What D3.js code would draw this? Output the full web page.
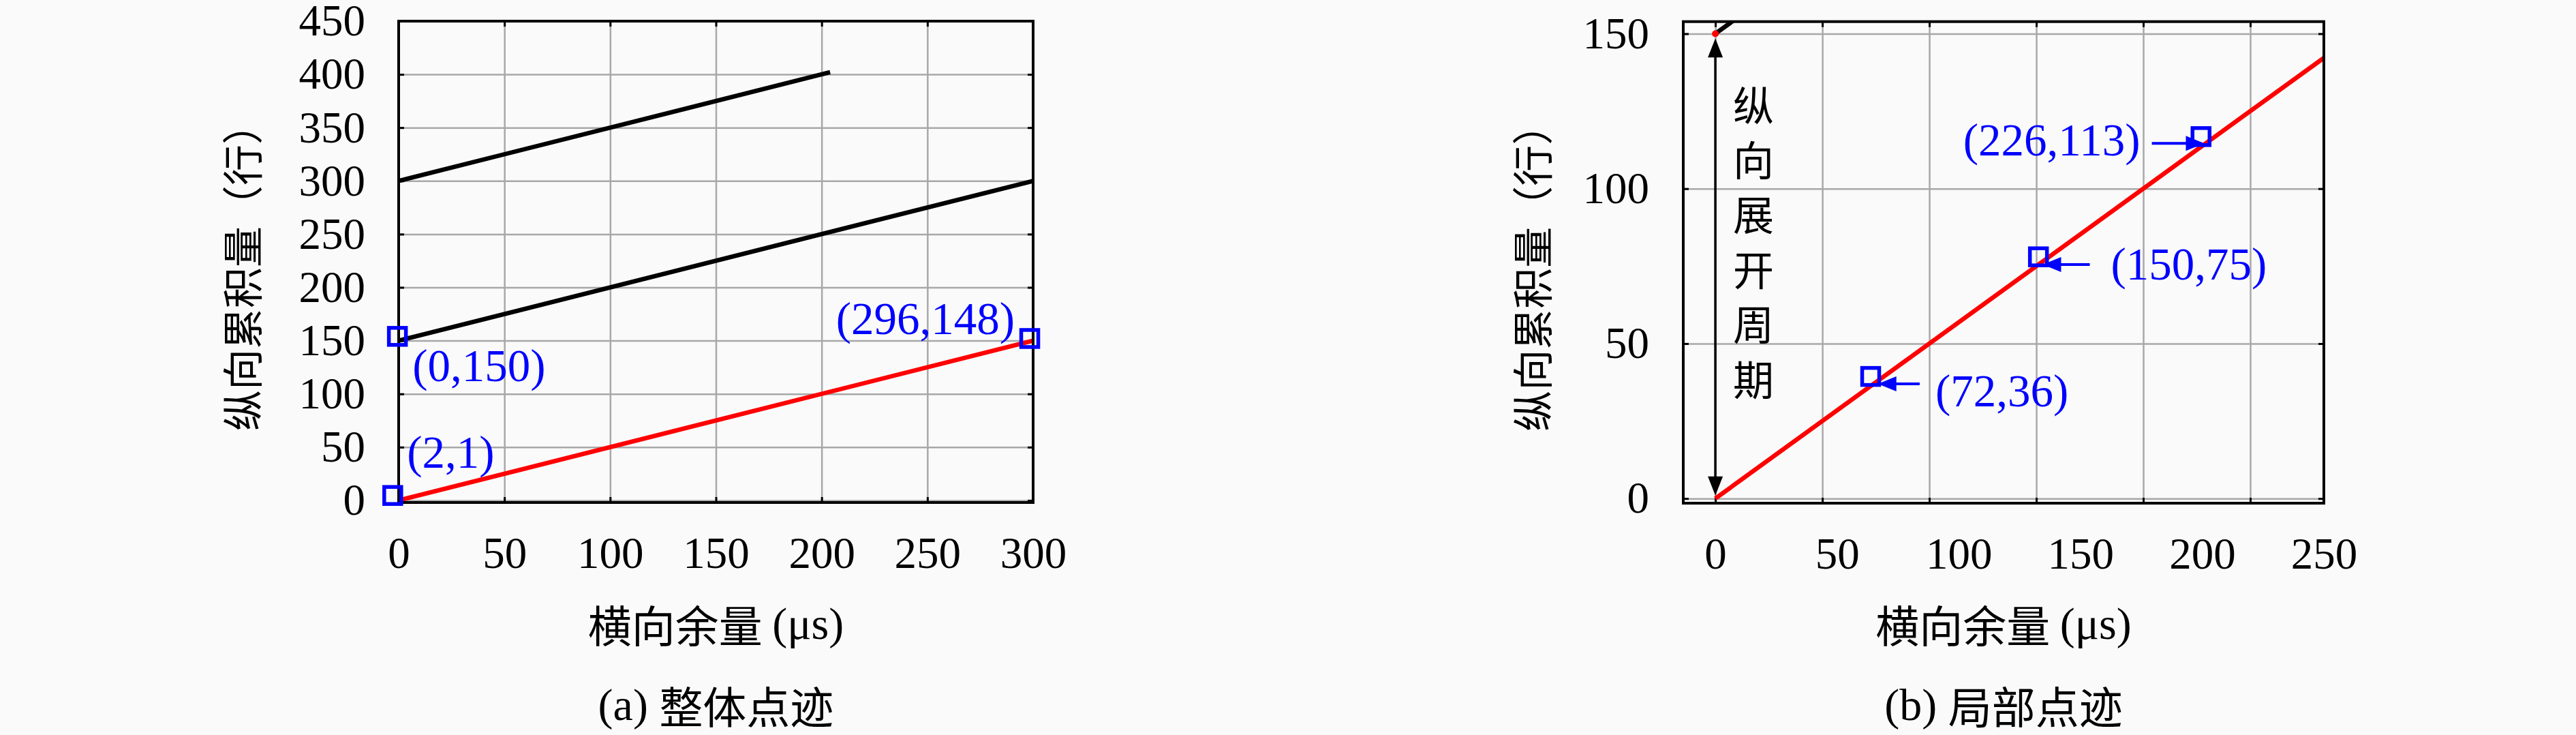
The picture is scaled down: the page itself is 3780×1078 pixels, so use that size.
<!DOCTYPE html>
<meta charset="utf-8">
<style>
  body { margin: 0; background: #fafafa; }
  .grid line { stroke: #a8a8a8; stroke-width: 2.5px; }
  .grid .domain { display: none; }
  .tk .domain { display: none; }
  .tk line { stroke: #000; stroke-width: 3px; }
  .num text { font-family: "Liberation Serif", serif; font-size: 65px; fill: #000; }
  .cjk { font-family: "Noto Sans CJK SC", sans-serif; fill: #000; }
  .ann { font-family: "Liberation Serif", serif; font-size: 67px; fill: #0000ff; }
</style>
<body>
<script src="https://cdn.jsdelivr.net/npm/d3@7"></script>
<script>
// ---- data (a) ----
var xTicksA = [0, 50, 100, 150, 200, 250, 300];
var yTicksA = [0, 50, 100, 150, 200, 250, 300, 350, 400, 450];
var redLineA = [[0, 0], [300, 150]];
var blackLinesA = [
  [[0, 150], [300, 300]],
  [[0, 300], [204, 402]]
];
var markersA = [[-2.8, 4.6], [-0.6, 154], [298.4, 152]];
var markerLabelsA = ["(2,1)", "(0,150)", "(296,148)"];

// ---- data (b) ----
var xTicksB = [0, 50, 100, 150, 200, 250];
var xTickLabelsB = ["0", "50", "100", "150", "200", "250"];
var yTicksB = [0, 50, 100, 150];
var redLineB = [[0, 0], [284.4, 142.2]];
var blackLineB = [[0, 150], [300, 300]];
var redDotB = [0, 150];
var markersB = [[72.6, 39.4], [151, 78], [227, 116.8]];
var markerLabelsB = ["(72,36)", "(150,75)", "(226,113)"];
var arrowTipsB = [[76, 37], [153, 75.5], [228.5, 114.6]];
var arrowTailsB = [95.5, 175, 204];
var periodArrowB = [1, 148.5];
var periodText = ["纵", "向", "展", "开", "周", "期"];

var yTitle = "纵向累积量（行）";
var xTitle = "横向余量 ";

var W = 3780, H = 1078;
var svg = d3.select("body").append("svg")
  .attr("width", W).attr("height", H)
  .style("display", "block");
svg.append("rect").attr("width", W).attr("height", H).attr("fill", "#fafafa");

function arrowHead(g, tipX, tipY, dirX, dirY, len, half, color) {
  // dir is unit vector pointing toward tip
  var bx = tipX - dirX * len, by = tipY - dirY * len;
  var px = -dirY, py = dirX;
  g.append("path")
    .attr("d", "M" + tipX + "," + tipY +
      "L" + (bx + px * half) + "," + (by + py * half) +
      "L" + (bx - px * half) + "," + (by - py * half) + "Z")
    .attr("fill", color);
}

function panel(opt) {
  var x = opt.x, y = opt.y;
  var x0 = x.range()[0], x1 = x.range()[1];
  var y0 = y.range()[0], y1 = y.range()[1];
  var g = svg.append("g");

  var clipId = "clip" + opt.id;
  svg.append("clipPath").attr("id", clipId)
    .append("rect").attr("x", x0).attr("y", y1)
    .attr("width", x1 - x0).attr("height", y0 - y1);

  // grid
  g.append("g").attr("class", "grid")
    .attr("transform", "translate(0," + y0 + ")")
    .call(d3.axisBottom(x).tickValues(opt.xTicks).tickSize(-(y0 - y1)).tickFormat(""));
  g.append("g").attr("class", "grid")
    .attr("transform", "translate(" + x0 + ",0)")
    .call(d3.axisLeft(y).tickValues(opt.yTicks).tickSize(-(x1 - x0)).tickFormat(""));

  // inward ticks on all sides
  g.append("g").attr("class", "tk").attr("transform", "translate(0," + y0 + ")")
    .call(d3.axisBottom(x).tickValues(opt.xTicks).tickSize(-8).tickFormat(""));
  g.append("g").attr("class", "tk").attr("transform", "translate(0," + y1 + ")")
    .call(d3.axisTop(x).tickValues(opt.xTicks).tickSize(-8).tickFormat(""));
  g.append("g").attr("class", "tk").attr("transform", "translate(" + x0 + ",0)")
    .call(d3.axisLeft(y).tickValues(opt.yTicks).tickSize(-8).tickFormat(""));
  g.append("g").attr("class", "tk").attr("transform", "translate(" + x1 + ",0)")
    .call(d3.axisRight(y).tickValues(opt.yTicks).tickSize(-8).tickFormat(""));

  // tick labels
  var yl = g.append("g").attr("class", "num")
    .attr("transform", "translate(" + x0 + ",0)")
    .call(d3.axisLeft(y).tickValues(opt.yTicks).tickSize(0).tickPadding(opt.yPad));
  yl.select(".domain").remove();
  var xl = g.append("g").attr("class", "num")
    .attr("transform", "translate(0," + y0 + ")")
    .call(d3.axisBottom(opt.xLabelScale).tickValues(opt.xLabelTicks).tickSize(0)
      .tickPadding(50).tickFormat(function(d, i) { return opt.xLabelText ? opt.xLabelText[i] : d; }));
  xl.select(".domain").remove();
  g.selectAll(".num").attr("font-family", null).attr("font-size", null);

  var line = d3.line().x(function(d) { return x(d[0]); }).y(function(d) { return y(d[1]); });
  var plot = g.append("g").attr("clip-path", "url(#" + clipId + ")");

  opt.blackLines.forEach(function(l) {
    plot.append("path").attr("d", line(l)).attr("fill", "none")
      .attr("stroke", "#000").attr("stroke-width", 6.5);
  });
  plot.append("path").attr("d", line(opt.redLine)).attr("fill", "none")
    .attr("stroke", "#ff0000").attr("stroke-width", 6.5);

  // axes box
  g.append("rect").attr("x", x0).attr("y", y1)
    .attr("width", x1 - x0).attr("height", y0 - y1)
    .attr("fill", "none").attr("stroke", "#000").attr("stroke-width", 4);

  // markers
  opt.markers.forEach(function(m) {
    g.append("rect")
      .attr("x", x(m[0]) - 12.5).attr("y", y(m[1]) - 12.5)
      .attr("width", 25).attr("height", 25)
      .attr("fill", "none").attr("stroke", "#0000ff").attr("stroke-width", 5.5);
  });

  // axis titles
  g.append("text").attr("class", "cjk")
    .attr("transform", "translate(" + opt.yTitleX + "," + ((y0 + y1) / 2 + 8) + ") rotate(-90)")
    .attr("text-anchor", "middle").attr("dominant-baseline", "central")
    .attr("font-size", 60).text(yTitle);
  var xt = g.append("text").attr("class", "cjk")
    .attr("x", (x0 + x1) / 2).attr("y", 914)
    .attr("text-anchor", "middle").attr("dominant-baseline", "central")
    .attr("font-size", 64);
  xt.append("tspan").text(xTitle);
  xt.append("tspan").attr("font-family", "Liberation Serif, serif").attr("font-size", 66).text("(μs)");

  var st = g.append("text").attr("class", "cjk")
    .attr("x", (x0 + x1) / 2).attr("y", 1033)
    .attr("text-anchor", "middle").attr("dominant-baseline", "central")
    .attr("font-size", 64);
  st.append("tspan").attr("font-family", "Liberation Serif, serif").attr("font-size", 66).text(opt.sub[0] + " ");
  st.append("tspan").text(opt.sub[1]);

  return { g: g, plot: plot };
}

// ---------- panel (a) ----------
var xA = d3.scaleLinear().domain([0, 300]).range([585, 1516]);
var yA = d3.scaleLinear().domain([-2, 450]).range([737, 31]);
var pa = panel({
  id: "a", x: xA, y: yA, xTicks: xTicksA, yTicks: yTicksA,
  xLabelScale: xA, xLabelTicks: xTicksA, yPad: 49,
  redLine: redLineA, blackLines: blackLinesA, markers: markersA,
  yTitleX: 352, sub: ["(a)", "整体点迹"]
});
var offA = [[21, -64, "start"], [22, 43, "start"], [-22, -29, "end"]];
markersA.forEach(function(m, i) {
  pa.g.append("text").attr("class", "ann")
    .attr("x", xA(m[0]) + offA[i][0]).attr("y", yA(m[1]) + offA[i][1])
    .attr("text-anchor", offA[i][2]).attr("dominant-baseline", "central")
    .text(markerLabelsA[i]);
});

// ---------- panel (b) ----------
var xB = d3.scaleLinear().domain([-15, 284.4]).range([2470, 3410]);
var yB = d3.scaleLinear().domain([-1.5, 153.9]).range([738, 31.7]);
// tick labels are spread evenly from 0 to the right edge
var xLabB = d3.scaleLinear().domain([0, 250]).range([xB(0), xB(284.4)]);
var pb = panel({
  id: "b", x: xB, y: yB, xTicks: xTicksB, yTicks: yTicksB,
  xLabelScale: xLabB, xLabelTicks: xTicksB, xLabelText: xTickLabelsB, yPad: 50,
  redLine: redLineB, blackLines: [blackLineB], markers: markersB,
  yTitleX: 2245, sub: ["(b)", "局部点迹"]
});
pb.plot.append("circle").attr("cx", xB(redDotB[0])).attr("cy", yB(redDotB[1]))
  .attr("r", 5).attr("fill", "#ff0000");

// period double arrow
var ax = xB(0), ayTop = yB(periodArrowB[1]), ayBot = yB(periodArrowB[0]);
pb.g.append("line").attr("x1", ax).attr("x2", ax)
  .attr("y1", ayTop + 20).attr("y2", ayBot - 20)
  .attr("stroke", "#000").attr("stroke-width", 3.5);
arrowHead(pb.g, ax, ayTop, 0, -1, 28, 11, "#000");
arrowHead(pb.g, ax, ayBot, 0, 1, 28, 11, "#000");
periodText.forEach(function(c, i) {
  pb.g.append("text").attr("class", "cjk")
    .attr("x", ax + 56).attr("y", 151 + i * 80.4)
    .attr("text-anchor", "middle").attr("dominant-baseline", "central")
    .attr("font-size", 60).text(c);
});

// annotation arrows and labels
var labOffB = [[23, 10, "start"], [31, -1, "start"], [-17, -5, "end"]];
arrowTipsB.forEach(function(t, i) {
  var tx = xB(t[0]), ty = yB(t[1]), sx = xB(arrowTailsB[i]);
  var dir = sx > tx ? -1 : 1;
  pb.g.append("line").attr("x1", sx).attr("x2", tx - dir * 20)
    .attr("y1", ty).attr("y2", ty)
    .attr("stroke", "#0000ff").attr("stroke-width", 4);
  arrowHead(pb.g, tx, ty, dir, 0, 27, 11, "#0000ff");
  pb.g.append("text").attr("class", "ann")
    .attr("x", sx + labOffB[i][0]).attr("y", ty + labOffB[i][1])
    .attr("text-anchor", labOffB[i][2]).attr("dominant-baseline", "central")
    .text(markerLabelsB[i]);
});
</script>
</body>
